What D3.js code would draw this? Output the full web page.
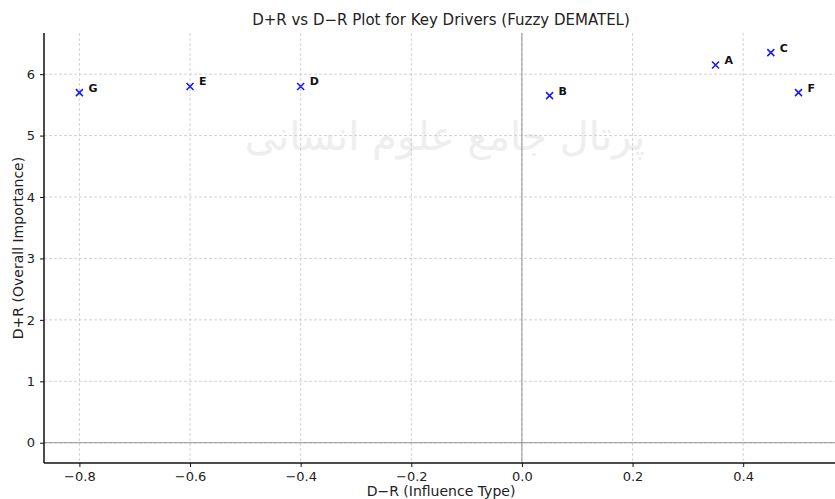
<!doctype html>
<html>
<head>
    <title>D+R vs D-R Plot</title>
    <script src="https://d3js.org/d3.v7.min.js"></script>
    <style>
        body { margin: 0; background: #fff; }
        text { font-family: 'DejaVu Sans', sans-serif; }
        .tick text { font-size: 13px; fill: #222; }
        .pt-label { font-size: 11px; font-weight: bold; fill: #111; }
    </style>
</head>
<body>
    <svg id="chart" width="835" height="499"></svg>
    <script>
      // factors and their coordinates (D-R, D+R)
      const factors = ["A", "B", "C", "D", "E", "F", "G"];
      const dMinusR = [0.35, 0.05, 0.45, -0.4, -0.6, 0.5, -0.8];
      const dPlusR = [6.15, 5.65, 6.35, 5.8, 5.8, 5.7, 5.7];

      const xTicks = [-0.8, -0.6, -0.4, -0.2, 0.0, 0.2, 0.4];
      const yTicks = [0, 1, 2, 3, 4, 5, 6];

      var svg = d3.select("#chart");
      var pLeft = 44, pRight = 835, pTop = 33, pBottom = 463;

      var x = d3.scaleLinear().domain([-0.864, 0.566]).range([pLeft, pRight]);
      var y = d3.scaleLinear().domain([-0.33, 6.67]).range([pBottom, pTop]);

      // faint watermark
      svg.append("text").attr("x", 445).attr("y", 150).attr("text-anchor", "middle")
        .attr("font-family", "'Noto Sans', 'DejaVu Sans', sans-serif")
        .attr("fill", "#eeeeee").attr("font-size", 40).text("پرتال جامع علوم انسانی");

      // grid
      svg.append("g").selectAll("line").data(xTicks).join("line")
        .attr("x1", d => x(d)).attr("x2", d => x(d))
        .attr("y1", pTop).attr("y2", pBottom)
        .attr("stroke", "#c8c8c8").attr("stroke-width", 0.8).attr("stroke-dasharray", "3,2");
      svg.append("g").selectAll("line").data(yTicks).join("line")
        .attr("x1", pLeft).attr("x2", pRight)
        .attr("y1", d => y(d)).attr("y2", d => y(d))
        .attr("stroke", "#c8c8c8").attr("stroke-width", 0.8).attr("stroke-dasharray", "3,2");

      // zero lines
      svg.append("line").attr("x1", x(0)).attr("x2", x(0)).attr("y1", pTop).attr("y2", pBottom)
        .attr("stroke", "#888").attr("stroke-width", 0.9);
      svg.append("line").attr("x1", pLeft).attr("x2", pRight).attr("y1", y(0)).attr("y2", y(0))
        .attr("stroke", "#888").attr("stroke-width", 0.9);

      // axes
      var xAxis = svg.append("g").attr("transform", "translate(0," + pBottom + ")")
        .call(d3.axisBottom(x).tickValues(xTicks).tickSize(4).tickPadding(5)
          .tickFormat(d => d3.format(".1f")(d).replace("-", "\u2212")));
      var yAxis = svg.append("g").attr("transform", "translate(" + pLeft + ",0)")
        .call(d3.axisLeft(y).tickValues(yTicks).tickSize(4).tickPadding(5).tickFormat(d3.format("d")));
      [xAxis, yAxis].forEach(a => {
        a.select(".domain").attr("stroke", "#111").attr("stroke-width", 1.5);
        a.selectAll(".tick line").attr("stroke", "#111");
      });
      xAxis.select(".domain").attr("d", "M" + pLeft + ",0H" + pRight);
      yAxis.select(".domain").attr("d", "M0," + pBottom + "V" + pTop);

      // points
      var pts = factors.map((f, i) => ({name: f, x: dMinusR[i], y: dPlusR[i]}));
      var s = 3.5;
      svg.append("g").selectAll("path").data(pts).join("path")
        .attr("d", d => {
          var cx = x(d.x), cy = y(d.y);
          return "M" + (cx - s) + "," + (cy - s) + "L" + (cx + s) + "," + (cy + s) +
                 "M" + (cx - s) + "," + (cy + s) + "L" + (cx + s) + "," + (cy - s);
        })
        .attr("stroke", "#1a1aff").attr("stroke-width", 1.6);

      svg.append("g").selectAll("text").data(pts).join("text")
        .attr("class", "pt-label")
        .attr("x", d => x(d.x) + 9)
        .attr("y", d => y(d.y) - 1)
        .text(d => d.name);

      // titles
      svg.append("text").attr("x", 441).attr("y", 25).attr("text-anchor", "middle")
        .attr("font-size", 15).attr("fill", "#222")
        .text("D+R vs D\u2212R Plot for Key Drivers (Fuzzy DEMATEL)");
      svg.append("text").attr("x", 441).attr("y", 496).attr("text-anchor", "middle")
        .attr("font-size", 14).attr("fill", "#222")
        .text("D\u2212R (Influence Type)");
      svg.append("text").attr("transform", "translate(23,248) rotate(-90)").attr("text-anchor", "middle")
        .attr("font-size", 14).attr("fill", "#222")
        .text("D+R (Overall Importance)");
    </script>
</body>
</html>
